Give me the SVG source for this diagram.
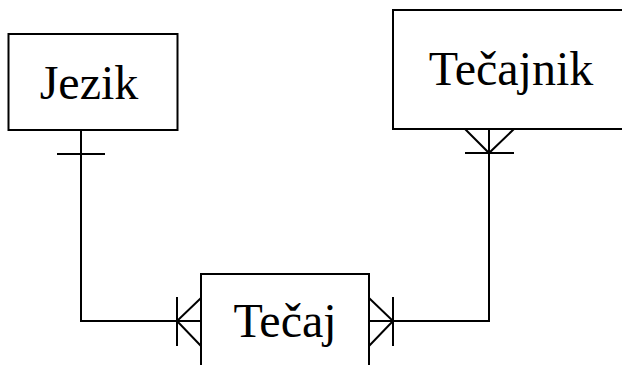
<svg xmlns="http://www.w3.org/2000/svg" width="622" height="365" viewBox="0 0 622 365">
<style>
.box{fill:#fff;stroke:#000;stroke-width:2}
.t{font-family:"Liberation Serif","Times New Roman",serif;font-size:48px;fill:#000;text-anchor:middle}
.c{fill:none;stroke:#000;stroke-width:2}
</style>
<rect width="622" height="365" fill="#fff"/>
<g id="connectors">
<path class="c" d="M81,130 V321 H201"/>
<path class="c" d="M57,154 H105"/>
<path class="c" d="M177,297 V346 M201,298 L177,321 L201,346"/>
<path class="c" d="M369,321 H489 V129"/>
<path class="c" d="M393,297 V346 M369,298 L393,321 L369,346"/>
<path class="c" d="M465,153 H514 M465,129 L489,153 L514,129"/>
</g>
<g id="jezik">
<rect class="box" x="8.5" y="34" width="169" height="96"/>
<text class="t" x="89" y="99">Jezik</text>
</g>
<g id="tecajnik">
<rect class="box" x="393" y="10" width="240" height="119"/>
<text class="t" x="511" y="85">Tečajnik</text>
</g>
<g id="tecaj">
<rect class="box" x="201" y="274" width="168" height="110"/>
<text class="t" x="285" y="337">Tečaj</text>
</g>
</svg>
